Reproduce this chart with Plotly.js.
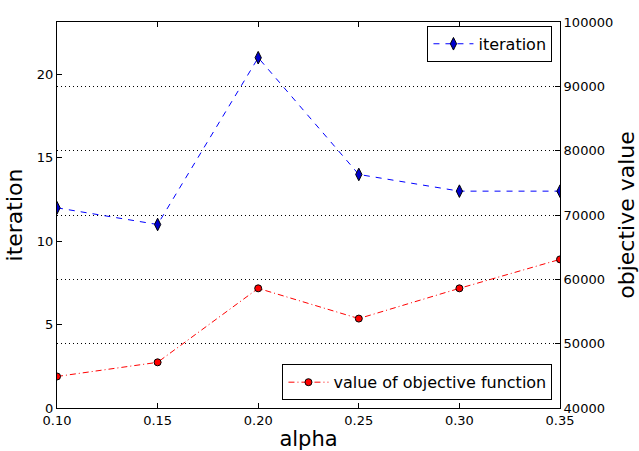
<!DOCTYPE html>
<html><head><meta charset="utf-8">
<script src="https://cdn.plot.ly/plotly-3.0.1.min.js"></script>
<style>body{margin:0;background:#fff}#chart{width:639px;height:451px}</style>
</head><body><div id="chart"></div>
<script>
const alpha = [0.10, 0.15, 0.20, 0.25, 0.30, 0.35];
const iteration = [12, 11, 21, 14, 13, 13];
const objectiveValue = [44900, 47100, 58600, 53900, 58600, 63100];
const xTicks = [0.10, 0.15, 0.20, 0.25, 0.30, 0.35];
const yTicks = [0, 5, 10, 15, 20];
const y2Ticks = [40000, 50000, 60000, 70000, 80000, 90000, 100000];

const font = {family: 'DejaVu Sans', color: '#000'};
const traces = [
  {x: alpha, y: iteration, name: 'iteration', mode: 'lines+markers', yaxis: 'y', legend: 'legend',
   line: {color: '#0000ff', dash: '6px,6px', width: 1},
   marker: {symbol: 'diamond-tall', color: '#0000cc', size: 9, line: {color: '#000', width: 1}}},
  {x: alpha, y: objectiveValue, name: 'value of objective function', mode: 'lines+markers', yaxis: 'y2', legend: 'legend2',
   line: {color: '#ff0000', dash: '6px,3px,1px,3px', width: 1},
   marker: {symbol: 'circle', color: '#ff0000', size: 7, line: {color: '#000', width: 1}}}
];
const axBase = {showline: true, linecolor: '#000', linewidth: 1, ticks: 'inside', ticklen: 5, tickcolor: '#000',
  zeroline: false, tickfont: {family: 'DejaVu Sans', size: 13, color: '#000'}};
const layout = {
  width: 639, height: 451, margin: {l: 57, r: 79, t: 22, b: 43},
  paper_bgcolor: '#fff', plot_bgcolor: '#fff', font: font,
  xaxis: Object.assign({}, axBase, {range: [0.10, 0.35], tickvals: xTicks, tickformat: '.2f', mirror: 'ticks', showgrid: false,
    title: {text: 'alpha', font: {family: 'DejaVu Sans', size: 21}, standoff: 4}}),
  yaxis: Object.assign({}, axBase, {range: [0, 23.14], tickvals: yTicks, showgrid: false,
    title: {text: 'iteration', font: {family: 'DejaVu Sans', size: 22}, standoff: 8}}),
  yaxis2: Object.assign({}, axBase, {overlaying: 'y', side: 'right', range: [40000, 100000], tickvals: y2Ticks,
    tickformat: 'd', showgrid: true, gridcolor: '#000', griddash: '1px,3px', gridwidth: 1,
    title: {text: 'objective value', font: {family: 'DejaVu Sans', size: 22}, standoff: 8}}),
  legend: {x: 0.985, y: 0.99, xanchor: 'right', yanchor: 'top', bgcolor: '#fff', bordercolor: '#000', borderwidth: 1,
    font: {family: 'DejaVu Sans', size: 16}, itemwidth: 40},
  legend2: {x: 0.985, y: 0.02, xanchor: 'right', yanchor: 'bottom', bgcolor: '#fff', bordercolor: '#000', borderwidth: 1,
    font: {family: 'DejaVu Sans', size: 16}, itemwidth: 40},
  showlegend: true
};
Plotly.newPlot('chart', traces, layout, {displayModeBar: false, staticPlot: true});
</script></body></html>
